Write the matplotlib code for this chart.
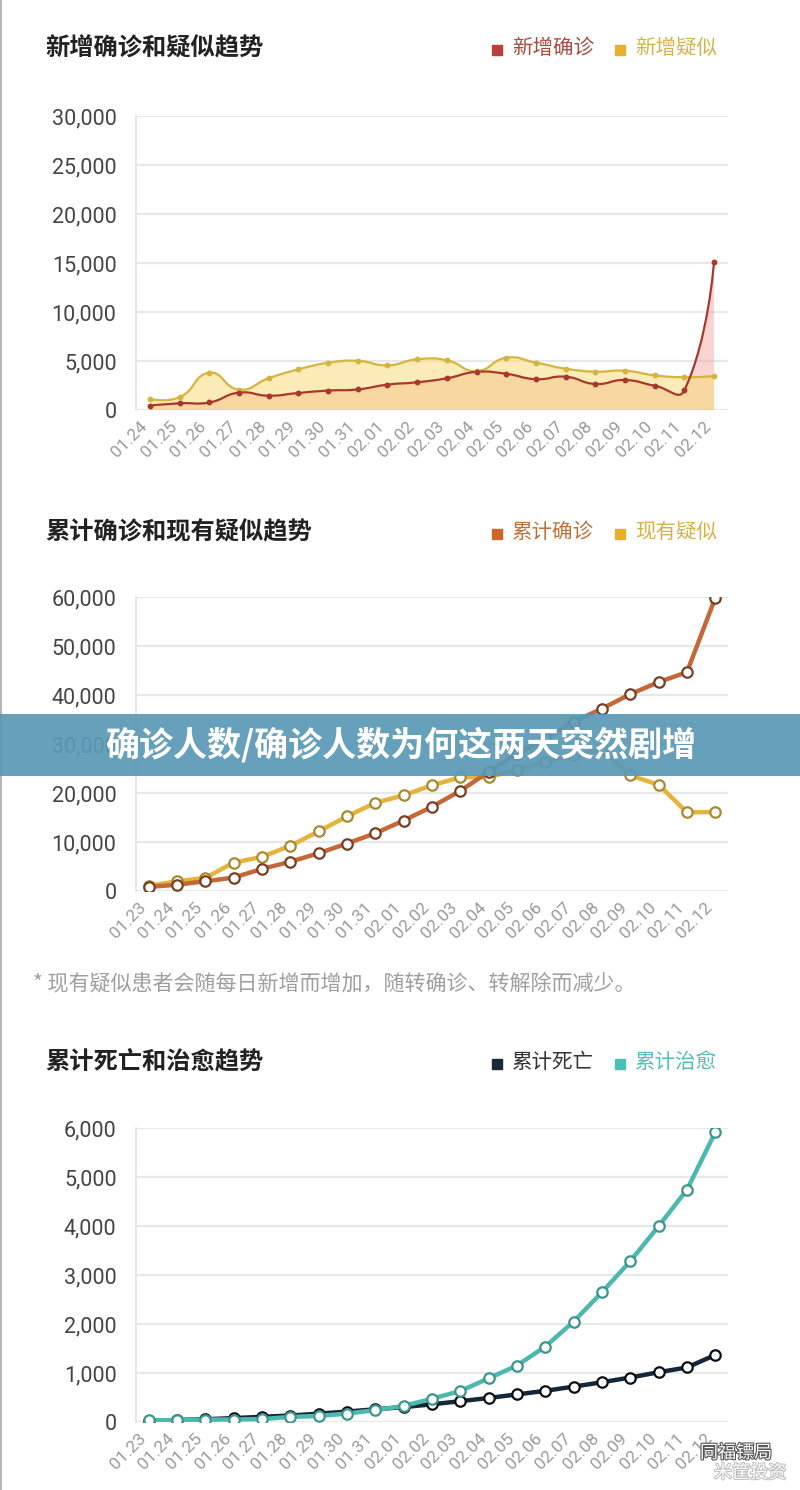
import matplotlib
matplotlib.use('Agg')
import matplotlib.pyplot as plt
import numpy as np
from matplotlib.path import Path
from matplotlib.patches import PathPatch, Rectangle
import matplotlib.transforms as mtransforms
import matplotlib.patheffects as pe
from matplotlib.lines import Line2D

plt.rcParams['font.family'] = ['Noto Sans CJK SC', 'DejaVu Sans']

# ---------------- data ----------------
dates_new = ['01.24', '01.25', '01.26', '01.27', '01.28', '01.29', '01.30', '01.31',
             '02.01', '02.02', '02.03', '02.04', '02.05', '02.06', '02.07', '02.08',
             '02.09', '02.10', '02.11', '02.12']
new_confirmed = [444, 688, 769, 1771, 1459, 1737, 1982, 2102, 2590, 2829, 3235, 3887,
                 3694, 3143, 3399, 2656, 3062, 2478, 2015, 15152]
new_suspected = [1118, 1309, 3806, 2077, 3248, 4148, 4812, 5019, 4562, 5173, 5072, 3971,
                 5328, 4833, 4214, 3916, 4008, 3536, 3342, 3450]

dates_cum = ['01.23'] + dates_new
cum_confirmed = [830, 1287, 1975, 2744, 4515, 5974, 7711, 9692, 11791, 14380, 17205, 20438,
                 24324, 28018, 31161, 34546, 37198, 40171, 42638, 44653, 59804]
current_suspected = [1072, 1965, 2684, 5794, 6973, 9239, 12167, 15238, 17988, 19544, 21558,
                     23214, 23260, 24702, 26359, 27657, 28942, 23589, 21675, 16067, 16100]

cum_deaths = [25, 41, 56, 80, 106, 132, 170, 213, 259, 304, 361, 425, 490, 563, 636, 722,
              811, 908, 1016, 1113, 1367]
cum_cured = [34, 38, 49, 51, 60, 103, 124, 171, 243, 328, 475, 632, 892, 1153, 1540, 2050,
             2649, 3281, 3996, 4740, 5911]

titles = ['新增确诊和疑似趋势', '累计确诊和现有疑似趋势', '累计死亡和治愈趋势']
legends = [('新增确诊', '新增疑似'), ('累计确诊', '现有疑似'), ('累计死亡', '累计治愈')]
note = '* 现有疑似患者会随每日新增而增加，随转确诊、转解除而减少。'
banner = '确诊人数/确诊人数为何这两天突然剧增'

# ---------------- figure ----------------
W, H = 800, 1490
fig = plt.figure(figsize=(W / 100, H / 100), dpi=100)
fig.patch.set_facecolor('white')


def fx(x):
    return x / W


def fy(y):
    return 1 - y / H


def make_axes(top_px, bottom_px, ymax, ystep, labels, xpad):
    ax = fig.add_axes([fx(136), fy(bottom_px), fx(728) - fx(136), (bottom_px - top_px) / H])
    n = len(labels)
    ax.set_xlim(-xpad[0], n - 1 + xpad[1])
    ax.set_ylim(0, ymax)
    yt = np.arange(0, ymax + 1, ystep)
    ax.set_yticks(yt)
    ax.set_yticklabels([f'{int(v):,}' for v in yt], fontfamily='Roboto', fontsize=15.5,
                       color='#444444')
    ax.set_xticks(range(n))
    ax.set_xticklabels(labels, rotation=45, ha='right', va='top', fontfamily='Roboto',
                       fontsize=12.5, color='#9A9A9A')
    off = mtransforms.ScaledTranslation(7 / 100, 0, fig.dpi_scale_trans)
    for lab in ax.get_xticklabels():
        lab.set_transform(lab.get_transform() + off)
    ax.tick_params(axis='y', length=0, pad=14)
    ax.tick_params(axis='x', length=0, pad=6)
    ax.grid(axis='y', color='#E8E8E8', lw=1.6)
    ax.set_axisbelow(True)
    for s in ['top', 'right', 'bottom']:
        ax.spines[s].set_visible(False)
    ax.spines['left'].set_color('#E6E6E6')
    ax.spines['left'].set_linewidth(1.4)
    ax.set_facecolor('none')
    return ax


def smooth(ax, x, y, s=0.5):
    """ECharts-style bezier smoothing computed in display space, returned in data space."""
    pts = ax.transData.transform(np.column_stack([x, y]).astype(float))
    n = len(pts)
    cps = []
    for i in range(n):
        p = pts[i]
        if i == 0 or i == n - 1:
            cps.append((p.copy(), p.copy()))
            continue
        prev, nxt = pts[i - 1], pts[i + 1]
        v = (nxt - prev) * s
        d0 = np.hypot(*(p - prev))
        d1 = np.hypot(*(p - nxt))
        tot = d0 + d1
        if tot:
            d0, d1 = d0 / tot, d1 / tot
        cps.append((p - v * d0, p + v * d1))
    verts = [pts[0]]
    codes = [Path.MOVETO]
    for i in range(n - 1):
        verts += [cps[i][1], cps[i + 1][0], pts[i + 1]]
        codes += [Path.CURVE4] * 3
    verts = ax.transData.inverted().transform(np.array(verts))
    return [tuple(v) for v in verts], codes


def header(y_px, title, leg, colors, textcolors):
    fig.text(fx(45), fy(y_px), title, fontsize=17.5, fontweight='bold', color='#222222',
             ha='left', va='center')
    xs = [492, 615]
    for (lx, name, c, tc) in zip(xs, leg, colors, textcolors):
        fig.patches.append(Rectangle((fx(lx), fy(y_px + 7)), fx(10), 10 / H,
                                     transform=fig.transFigure, color=c, zorder=5))
        fig.text(fx(lx + 20), fy(y_px), name, fontsize=14.8, color=tc, ha='left',
                 va='center')


# ---------------- chart 1 ----------------
red_line = '#A8382C'
yel_line = '#D3B540'
header(48, titles[0], legends[0], ['#B8403A', '#E8B02A'], ['#A84A40', '#D4B44A'])
ax1 = make_axes(116, 410, 30000, 5000, dates_new, (0.47, 0.47))
x1 = np.arange(len(dates_new))
v, c = smooth(ax1, x1, new_confirmed)
vf = v + [(x1[-1], 0), (x1[0], 0), (x1[0], new_confirmed[0])]
cf = c + [Path.LINETO, Path.LINETO, Path.CLOSEPOLY]
ax1.add_patch(PathPatch(Path(vf, cf), facecolor='#F2A09A', alpha=0.45, lw=0, zorder=2))
v2, c2 = smooth(ax1, x1, new_suspected)
vf2 = v2 + [(x1[-1], 0), (x1[0], 0), (x1[0], new_suspected[0])]
ax1.add_patch(PathPatch(Path(vf2, cf), facecolor='#F9DB7A', alpha=0.55, lw=0, zorder=3))
ax1.add_patch(PathPatch(Path(v2, c2), fill=False, edgecolor=yel_line, lw=1.6, zorder=4))
ax1.add_patch(PathPatch(Path(v, c), fill=False, edgecolor=red_line, lw=1.6, zorder=5))
ax1.plot(x1, new_suspected, 'o', ms=3.2, color=yel_line, zorder=6)
ax1.plot(x1, new_confirmed, 'o', ms=3.2, color=red_line, zorder=7)

# ---------------- chart 2 ----------------
header(532, titles[1], legends[1], ['#D0652A', '#E8B02A'], ['#C0703A', '#D8B048'])
ax2 = make_axes(597, 891, 60000, 10000, dates_cum, (0.45, 0.45))
x2 = np.arange(len(dates_cum))
ax2.plot(x2, current_suspected, '-o', color='#E6B43C', lw=3.2, ms=7.5, mfc='white',
         mec='#A88A30', mew=1.6, zorder=4)
ax2.plot(x2, cum_confirmed, '-o', color='#C4683A', lw=3.2, ms=7.5, mfc='white',
         mec='#7A3E22', mew=1.6, zorder=5)
fig.text(fx(33), fy(983), note, fontsize=15.1, color='#9E9E9E', ha='left', va='center')

# ---------------- chart 3 ----------------
header(1062, titles[2], legends[2], ['#1A2A3A', '#4CC0B8'], ['#333333', '#58BDB6'])
ax3 = make_axes(1128, 1422, 6000, 1000, dates_cum, (0.45, 0.45))
ax3.plot(x2, cum_deaths, '-o', color='#15283A', lw=3.2, ms=7.5, mfc='white',
         mec='#0A0F14', mew=1.6, zorder=4)
ax3.plot(x2, cum_cured, '-o', color='#4DB8AE', lw=3.2, ms=7.5, mfc='white',
         mec='#3A968E', mew=1.6, zorder=5)

# ---------------- left frame line ----------------
fig.lines.append(Line2D([fx(1), fx(1)], [0, 1], transform=fig.transFigure,
                        color='#A8A8A8', lw=1.2, zorder=9))

# ---------------- banner ----------------
fig.patches.append(Rectangle((0, fy(776)), 1, 62 / H, transform=fig.transFigure,
                             facecolor='#5A99B5', alpha=0.93, lw=0, zorder=10))
fig.text(fx(401), fy(745), banner, fontsize=24.5, fontweight='heavy', color='white',
         ha='center', va='center', zorder=11)

# ---------------- watermark ----------------
fig.text(fx(736), fy(1453), '同福镖局', fontsize=13, color='white', ha='center',
         va='center', zorder=12,
         path_effects=[pe.withStroke(linewidth=1.6, foreground='#555555')])
fig.text(fx(750), fy(1473), '米筐投资', fontsize=13, color='white', ha='center',
         va='center', zorder=12,
         path_effects=[pe.withStroke(linewidth=1.4, foreground='#BBBBBB')])

fig.savefig('out.png', dpi=100, facecolor='white')
